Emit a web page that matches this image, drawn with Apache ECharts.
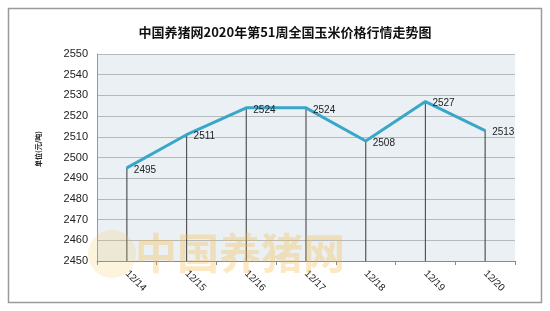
<!DOCTYPE html>
<html><head><meta charset="utf-8">
<script src="https://cdn.jsdelivr.net/npm/echarts@6/dist/echarts.min.js"></script>
<style>html,body{margin:0;padding:0;background:#fff}#c{width:550px;height:311px}</style>
</head><body><div id="c"></div>
<script>
const titleText = '中国养猪网2020年第51周全国玉米价格行情走势图';
const unitLabel = '单位(元/吨)';
const categories = ['12/14','12/15','12/16','12/17','12/18','12/19','12/20'];
const prices = [2495, 2511, 2524, 2524, 2508, 2527, 2513];
const yMin = 2450, yMax = 2550, yStep = 10;

const chart = echarts.init(document.getElementById('c'), null, {renderer:'canvas'});
chart.setOption({
  animation:false,
  backgroundColor:'#fff',
  title:{text:titleText,left:280,top:21,textAlign:'center',
    textStyle:{fontFamily:'Noto Sans CJK SC',fontSize:13,fontWeight:'bold',color:'#111'}},
  graphic:[
    {type:'rect',shape:{x:8.5,y:8.5,width:533,height:294},style:{fill:'none',stroke:'#9a9a9a',lineWidth:1.5},z:-1},
    {type:'text',x:38,y:149,rotation:Math.PI/2,style:{text:unitLabel,fontSize:7,align:'center',verticalAlign:'middle',fontFamily:'Noto Sans CJK SC',fontWeight:'bold',fill:'#222'}},
    {type:'circle',shape:{cx:112,cy:254,r:24},style:{fill:'rgba(245,200,90,0.2)'},z:100},
    {type:'text',left:135,top:232,style:{text:'中国养猪网',fontSize:42,fontFamily:'Noto Sans CJK SC',fontWeight:'bold',fill:'rgba(245,185,70,0.33)'},z:100}
  ],
  grid:{left:97,right:35,top:54,bottom:50,show:true,backgroundColor:'#eaf0f4',borderWidth:0},
  xAxis:{type:'category',data:categories,boundaryGap:true,
    axisLine:{show:true,lineStyle:{color:'#888',width:1}},
    axisTick:{show:true,alignWithLabel:false,length:4,lineStyle:{color:'#888'}},
    axisLabel:{rotate:-45,margin:11,fontSize:10,color:'#222',fontFamily:'Liberation Sans'},
    splitLine:{show:false}},
  yAxis:{type:'value',min:yMin,max:yMax,interval:yStep,
    axisLine:{show:true,lineStyle:{color:'#999'}},
    axisTick:{show:false},
    axisLabel:{fontSize:11,color:'#222',margin:9,fontFamily:'Liberation Sans',formatter:v=>String(v)},
    splitLine:{show:true,lineStyle:{color:'#b5b9bc',width:1}}},
  series:[
    {type:'bar',data:prices,barWidth:1.2,itemStyle:{color:'#555'},silent:true,z:1},
    {type:'line',data:prices,symbol:'circle',symbolSize:2,showSymbol:true,itemStyle:{color:'#3aa7c9'},
     lineStyle:{color:'#3aa7c9',width:3},z:3,
     label:{show:true,position:'right',distance:6,offset:[0,2],fontSize:10,color:'#222',fontFamily:'Liberation Sans'}}
  ]
});
</script></body></html>
